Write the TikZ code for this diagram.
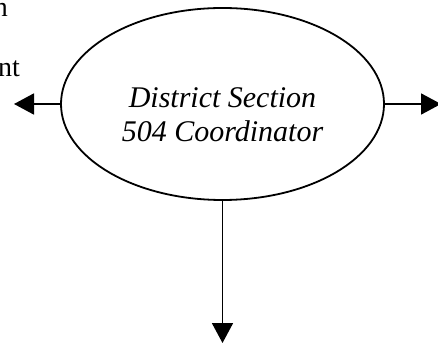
\documentclass[tikz,border=0pt]{standalone}
\usepackage{fontspec}
\setmainfont{Liberation Serif}
\usetikzlibrary{arrows.meta,shapes.geometric}
\begin{document}
\begin{tikzpicture}[x=1pt,y=-1pt,
  link/.style={line width=1.8pt,-{Triangle[length=20pt,width=21pt]}},
  roleshape/.style={ellipse,draw,line width=1.8pt,inner sep=0pt,
    minimum width=323pt,minimum height=192pt},
  roletext/.style={anchor=base,inner sep=0pt,align=center,
    font=\fontsize{30}{34}\selectfont\itshape},
  cuttext/.style={anchor=base east,inner sep=0pt,font=\fontsize{28}{34}\selectfont}]
  \useasboundingbox (0,0) rectangle (438,347);
  \clip (0,0) rectangle (438,347);
  % centre role; the base anchor sits on the last line
  \node[roleshape] (coord) at (222.5,104) {};
  \node[roletext] (coordtext) at (222.5,142) {District Section\\504 Coordinator};
  % free ends of the connectors
  \coordinate (lefttip) at (14,104);
  \coordinate (righttip) at (441,104);
  \coordinate (downtip) at (222.5,343);
  \draw[link] (coord.west) -- (lefttip);
  \draw[link] (coord.east) -- (righttip);
  \draw[link] (coord.south) -- (downtip);
  % ends of neighbouring labels
  \node[cuttext] (lbla) at (8,17) {n};
  \node[cuttext] (lblb) at (20,77) {nt};
\end{tikzpicture}
\end{document}
